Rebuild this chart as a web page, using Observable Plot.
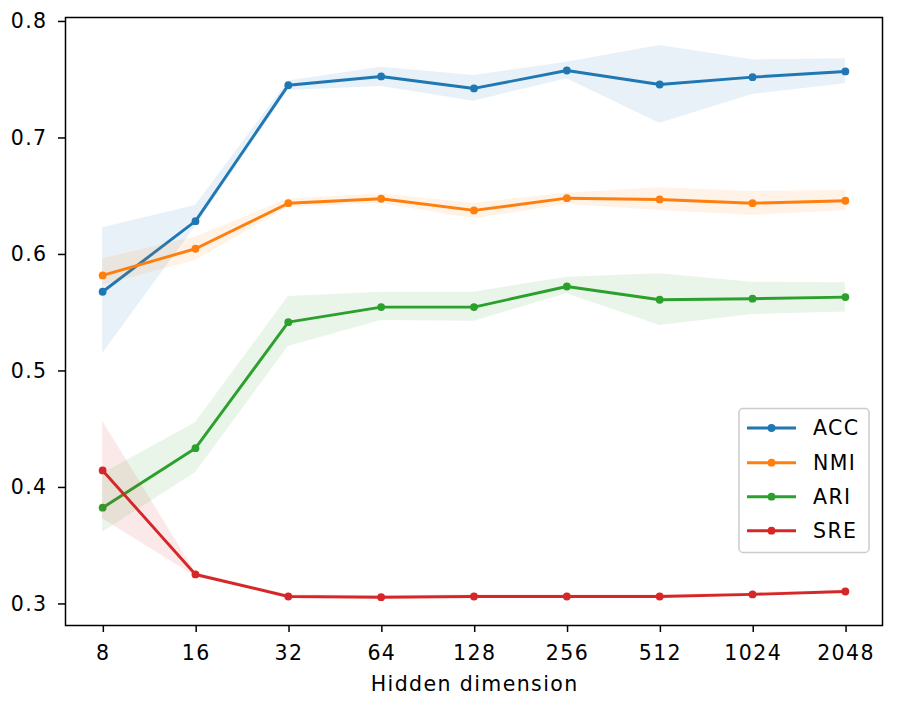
<!DOCTYPE html>
<html>
<head>
<meta charset="utf-8">
<script src="https://cdn.jsdelivr.net/npm/d3@7"></script>
<script src="https://cdn.jsdelivr.net/npm/@observablehq/plot@0.6"></script>
<style>
  html, body { margin: 0; padding: 0; background: #fff; overflow: hidden; }
  #chart { width: 897px; height: 706px; }
  #chart svg text { letter-spacing: 1.4px; }
</style>
</head>
<body>
<div id="chart"></div>
<script>
const dims = ["8", "16", "32", "64", "128", "256", "512", "1024", "2048"];
const seriesNames = ["ACC", "NMI", "ARI", "SRE"];
const seriesColors = ["#1f77b4", "#ff7f0e", "#2ca02c", "#d62728"];
const yTicks = [0.3, 0.4, 0.5, 0.6, 0.7, 0.8];

const accMean = [0.568, 0.6286, 0.7453, 0.7528, 0.7425, 0.7579, 0.7459, 0.7522, 0.7571];
const accLow  = [0.515, 0.624, 0.7408, 0.7442, 0.7316, 0.7508, 0.7127, 0.7373, 0.7465];
const accHigh = [0.623, 0.642, 0.7488, 0.7608, 0.7536, 0.765, 0.7794, 0.7671, 0.768];

const nmiMean = [0.582, 0.6049, 0.644, 0.6478, 0.6378, 0.6483, 0.6472, 0.644, 0.6461];
const nmiLow  = [0.5734, 0.5948, 0.6405, 0.6438, 0.6306, 0.643, 0.6378, 0.6335, 0.6378];
const nmiHigh = [0.5963, 0.6149, 0.6475, 0.6518, 0.644, 0.6526, 0.6573, 0.6541, 0.655];

const ariMean = [0.3826, 0.4337, 0.5419, 0.5548, 0.5548, 0.5725, 0.5611, 0.562, 0.5634];
const ariLow  = [0.3616, 0.4126, 0.521, 0.5433, 0.5427, 0.5663, 0.539, 0.5485, 0.5505];
const ariHigh = [0.4117, 0.4555, 0.5639, 0.5676, 0.5676, 0.5805, 0.5834, 0.5762, 0.5757];

const sreMean = [0.4146, 0.3253, 0.3064, 0.3058, 0.3064, 0.3064, 0.3064, 0.3082, 0.3107];
const sreLow  = [0.3731, 0.3235, 0.305, 0.3045, 0.305, 0.305, 0.305, 0.307, 0.3095];
const sreHigh = [0.4569, 0.327, 0.3078, 0.3072, 0.3078, 0.3078, 0.3078, 0.3095, 0.312];

const means = [accMean, nmiMean, ariMean, sreMean];
const lows = [accLow, nmiLow, ariLow, sreLow];
const highs = [accHigh, nmiHigh, ariHigh, sreHigh];

const tables = seriesNames.map((s, i) =>
  dims.map((d, j) => ({dim: d, series: s, mean: means[i][j], lo: lows[i][j], hi: highs[i][j]}))
);

const FONT = 20.5;
const marks = [];
tables.forEach((t, i) => {
  marks.push(Plot.areaY(t, {x: "dim", y1: "lo", y2: "hi", fill: seriesColors[i], fillOpacity: 0.1}));
  marks.push(Plot.lineY(t, {x: "dim", y: "mean", stroke: seriesColors[i], strokeWidth: 2.9}));
  marks.push(Plot.dot(t, {x: "dim", y: "mean", r: 3.9, fill: seriesColors[i], stroke: "none"}));
});

const chart = Plot.plot({
  width: 897,
  height: 706,
  marginLeft: 65,
  marginRight: 15,
  marginTop: 17,
  marginBottom: 81,
  style: {fontFamily: "DejaVu Sans", fontSize: FONT + "px", color: "black", background: "white"},
  x: {type: "point", domain: dims, padding: 0.4, round: false},
  y: {domain: [0.2815, 0.8034]},
  marks: [
    ...marks,
    Plot.frame({stroke: "black", strokeWidth: 1.5}),
    Plot.axisX({tickSize: 7, tickPadding: 13, strokeWidth: 1.5, fontSize: FONT, label: null, dx: 0.7}),
    Plot.axisY({ticks: yTicks, tickFormat: d3.format(".1f"), tickSize: 7, tickPadding: 11, strokeWidth: 1.5, fontSize: FONT, label: null}),
    Plot.text(["Hidden dimension"], {frameAnchor: "bottom", lineAnchor: "middle", dy: 59, dx: 0.7, fontSize: FONT, fill: "black"})
  ]
});

document.getElementById("chart").appendChild(chart);

// Legend (matplotlib style, lower right inside axes)
const svg = d3.select(chart);
const lg = svg.append("g").attr("font-family", "DejaVu Sans").attr("font-size", FONT).attr("text-anchor", "start");
lg.append("rect")
  .attr("x", 739).attr("y", 408.5).attr("width", 130).attr("height", 144)
  .attr("rx", 4).attr("fill", "white").attr("fill-opacity", 0.8)
  .attr("stroke", "#cccccc").attr("stroke-width", 1.5);
const rowsY = [428, 462.7, 496.7, 530.7];
seriesNames.forEach((s, i) => {
  const y = rowsY[i];
  lg.append("line").attr("x1", 747).attr("x2", 796).attr("y1", y).attr("y2", y)
    .attr("stroke", seriesColors[i]).attr("stroke-width", 2.9);
  lg.append("circle").attr("cx", 771.5).attr("cy", y).attr("r", 3.9).attr("fill", seriesColors[i]);
  lg.append("text").attr("x", 813).attr("y", y).attr("dy", "0.35em").attr("fill", "black").text(s);
});
</script>
</body>
</html>
